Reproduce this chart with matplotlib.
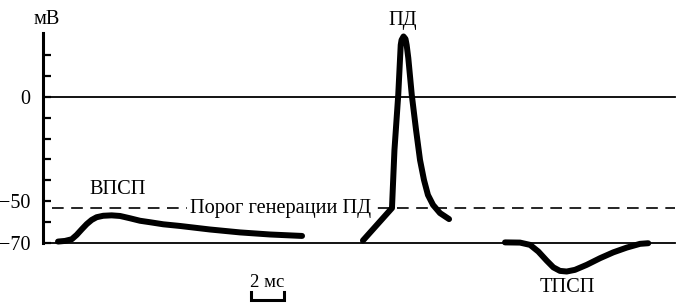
import matplotlib
matplotlib.use("Agg")
import matplotlib.pyplot as plt

plt.rcParams['font.family'] = ['Liberation Serif', 'DejaVu Serif']

# ---- data (time in ms, potential in mV) ----
epsp_t = [0.91, 1.33, 1.74, 2.04, 2.35, 2.65, 2.95, 3.25, 3.65, 4.16, 4.67, 5.27, 5.88,
          6.48, 7.29, 8.30, 10.12, 11.94, 13.76, 15.7]
epsp_v = [-69.5, -69.2, -68.4, -66.3, -63.6, -61.1, -59.1, -57.8, -57.1, -56.9, -57.2,
          -58.3, -59.5, -60.2, -61.2, -62.0, -63.7, -65.1, -66.1, -66.8]

ap_t = [19.39, 21.15, 21.30, 21.53, 21.64, 21.68, 21.73, 21.85, 21.97, 22.04, 22.14,
        22.35, 22.61, 22.85, 23.09, 23.33, 23.64, 24.06, 24.61]
ap_v = [-69.0, -53.4, -25.5, 1.0, 18.7, 25.0, 27.4, 29.1, 27.9, 25.0, 18.7,
        1.0, -15.9, -30.3, -39.9, -47.1, -51.9, -55.8, -58.7]

ipsp_t = [28.0, 28.91, 29.52, 30.02, 30.53, 30.93, 31.33, 31.74, 32.24, 32.95, 33.76,
          34.56, 35.38, 36.18, 36.68]
ipsp_v = [-69.9, -70.0, -71.1, -74.3, -78.7, -81.9, -83.6, -83.9, -83.1, -80.7, -77.5,
          -74.7, -72.4, -70.6, -70.3]

threshold_mv = -53.5
rest_mv = -70
zero_mv = 0
ytick_major = [0, -50, -70]
ytick_major_labels = ['0', '−50', '−70']
ytick_minor = [20, 10, -10, -20, -30, -40, -60]
scale_ms = 2

# ---- figure ----
fig = plt.figure(figsize=(6.8, 3.04), dpi=100)
ax = fig.add_axes([0, 0, 1, 1])
ax.set_xlim(-43 / 16.5, 637 / 16.5)
ax.set_ylim((97 - 304) / 2.08, 97 / 2.08)

for s in ['top', 'right', 'bottom']:
    ax.spines[s].set_visible(False)
ax.spines['left'].set_position(('data', 0))
ax.spines['left'].set_bounds(rest_mv, 31)
ax.spines['left'].set_linewidth(2.2)
ax.set_xticks([])
ax.set_yticks(ytick_major)
ax.set_yticklabels(ytick_major_labels, fontsize=14.5)
ax.set_yticks(ytick_minor, minor=True)
ax.tick_params(axis='y', which='both', direction='in', length=6, width=1.6, pad=9)

x_end = (675 - 43) / 16.5
ax.plot([0, x_end], [zero_mv, zero_mv], color='black', lw=1.3)
ax.plot([0, x_end], [rest_mv, rest_mv], color='black', lw=1.3)
ax.plot([(52 - 43) / 16.5, x_end], [threshold_mv, threshold_mv], color='black', lw=1.2,
        dashes=(7, 4.5))

kw = dict(color='black', lw=4.3, solid_capstyle='round', solid_joinstyle='round')
ax.plot(epsp_t, epsp_v, **kw)
ax.plot(ap_t, ap_v, **kw)
ax.plot(ipsp_t, ipsp_v, **kw)

ax.text(14.4, threshold_mv, 'Порог генерации ПД', fontsize=14.7, ha='center', va='center',
        bbox=dict(facecolor='white', edgecolor='none', pad=2))
ax.text(0.24, 37.2, 'мВ', fontsize=14.7, ha='center', va='center')
ax.text(21.8, 37.0, 'ПД', fontsize=14.7, ha='center', va='center')
ax.text(4.55, -44.7, 'ВПСП', fontsize=14.7, ha='center', va='center')
ax.text(31.8, -91.6, 'ТПСП', fontsize=14.7, ha='center', va='center')

# scale bar
sx0 = (251 - 43) / 16.5
ax.plot([sx0, sx0, sx0 + scale_ms, sx0 + scale_ms], [-93.7, -97.4, -97.4, -93.7],
        color='black', lw=2.2, solid_joinstyle='miter')
ax.text(sx0 + scale_ms / 2, -89.3, f'{scale_ms} мс', fontsize=13.5, ha='center', va='center')

fig.savefig('out.png', dpi=100)
